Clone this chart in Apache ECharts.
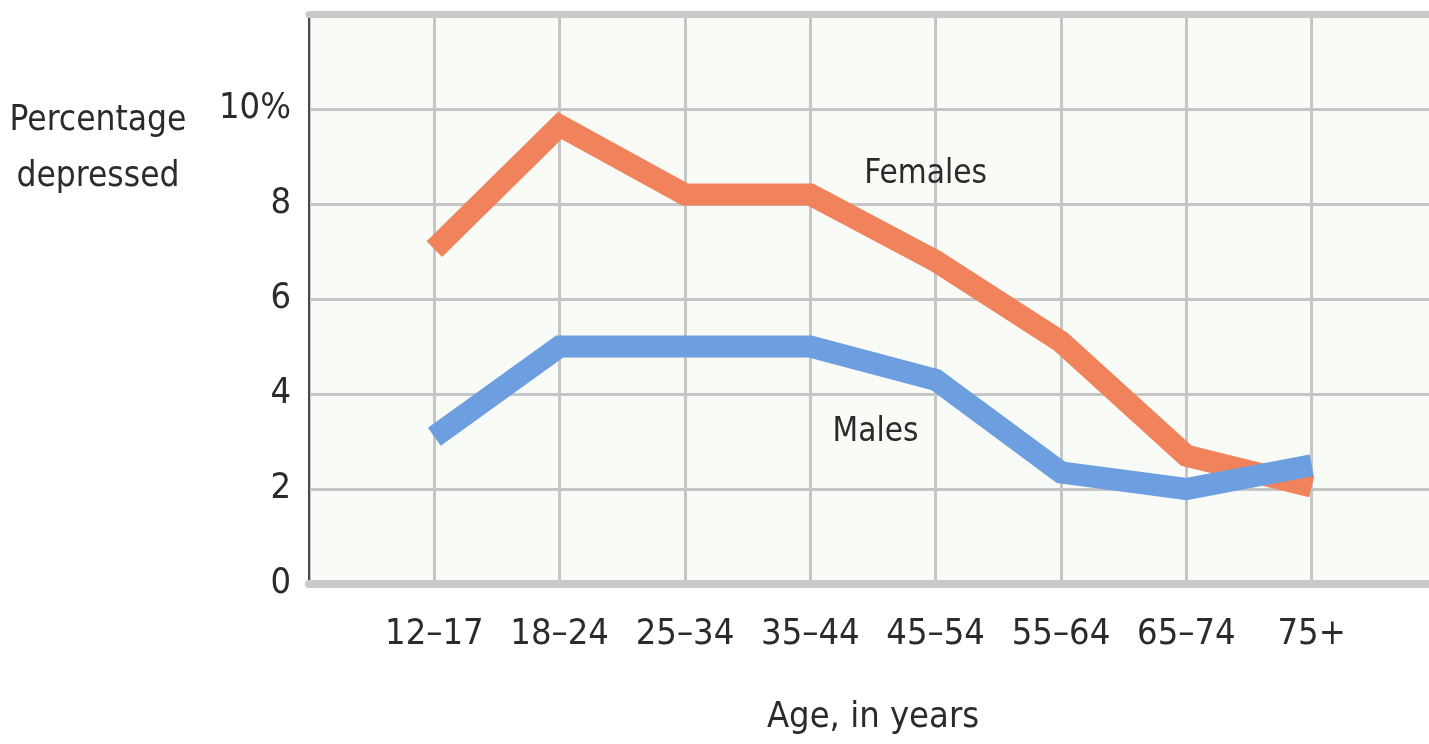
<!DOCTYPE html>
<html>
<head>
<meta charset="utf-8">
<title>Percentage depressed by age</title>
<script src="https://cdn.jsdelivr.net/npm/echarts@6/dist/echarts.min.js"></script>
<style>
  html, body { margin: 0; padding: 0; background: #ffffff; overflow: hidden; }
  /* The plot runs past the right edge of the page, so the canvas is a bit wider than the window */
  #chart { width: 1440px; height: 744px; }
</style>
</head>
<body>
<div id="chart"></div>
<script>
// Age groups along the x axis (placed at positions 1..8)
const ageGroups = ['12–17', '18–24', '25–34', '35–44', '45–54', '55–64', '65–74', '75+'];
// Percentage depressed in each age group
const females = [7.05, 9.65, 8.2, 8.2, 6.8, 5.1, 2.7, 2.05];
const males   = [3.1, 5.0, 5.0, 5.0, 4.3, 2.35, 2.0, 2.5];
// Y tick values shown on the left
const yTicks = [0, 2, 4, 6, 8, 10];
// Series name labels and where they sit in data space
const seriesLabels = [
  { name: 'Females', at: [4.92, 8.62] },
  { name: 'Males',   at: [4.52, 3.2] }
];

const FONT = '"DejaVu Sans Condensed", "Liberation Sans Narrow", "Liberation Sans", sans-serif';
const TEXT = '#2b2b2b';

const toPairs = arr => arr.map((v, i) => [i + 1, v]);

const chart = echarts.init(document.getElementById('chart'), null, { renderer: 'canvas' });

chart.setOption({
  animation: false,
  backgroundColor: '#ffffff',
  grid: {
    left: 309, right: 0, top: 14, bottom: 160,
    show: true, backgroundColor: '#f8fbf6', borderWidth: 0
  },
  xAxis: [
    {
      type: 'value', position: 'bottom', min: 0, max: 9, interval: 1,
      axisLine: { show: true, onZero: false, lineStyle: { color: '#c9c9c9', width: 8 } },
      axisTick: { show: false },
      axisLabel: {
        margin: 33, fontSize: 36, color: TEXT, fontFamily: FONT,
        formatter: v => (v >= 1 && v <= ageGroups.length && Number.isInteger(v)) ? ageGroups[v - 1] : ''
      },
      splitLine: { show: true, lineStyle: { color: '#c6c6c6', width: 3 } },
      name: 'Age, in years', nameLocation: 'middle', nameGap: 116,
      nameTextStyle: { fontSize: 36, color: TEXT, fontFamily: FONT }
    },
    {
      type: 'value', position: 'top', min: 0, max: 9, interval: 1,
      axisLine: { show: true, onZero: false, lineStyle: { color: '#c9c9c9', width: 7 } },
      axisTick: { show: false }, axisLabel: { show: false }, splitLine: { show: false }
    }
  ],
  yAxis: {
    type: 'value', min: 0, max: 12, interval: 2,
    axisLine: { show: true, onZero: false, lineStyle: { color: '#4a4a4a', width: 2 } },
    axisTick: { show: false },
    axisLabel: {
      margin: 18, fontSize: 36, color: TEXT, fontFamily: FONT,
      formatter: v => yTicks.includes(v) ? (v === 10 ? '10%' : String(v)) : ''
    },
    splitLine: { show: true, lineStyle: { color: '#c6c6c6', width: 3 } }
  },
  graphic: [
    {
      type: 'text', x: 98, y: 149,
      style: {
        text: 'Percentage\ndepressed', fontSize: 35, fontFamily: FONT, fill: TEXT,
        align: 'center', verticalAlign: 'middle', lineHeight: 56
      }
    }
  ],
  series: [
    {
      name: 'Females', type: 'line', data: toPairs(females),
      symbol: 'none', z: 3,
      lineStyle: { color: '#f0825c', width: 22, join: 'miter', cap: 'butt' },
      markPoint: {
        symbol: 'circle', symbolSize: 0, silent: true,
        data: [{ coord: seriesLabels[0].at, value: seriesLabels[0].name }],
        label: { show: true, position: 'inside', formatter: seriesLabels[0].name,
                 fontSize: 33, color: TEXT, fontFamily: FONT }
      }
    },
    {
      name: 'Males', type: 'line', data: toPairs(males),
      symbol: 'none', z: 4,
      lineStyle: { color: '#6d9fe0', width: 22, join: 'miter', cap: 'butt' },
      markPoint: {
        symbol: 'circle', symbolSize: 0, silent: true,
        data: [{ coord: seriesLabels[1].at, value: seriesLabels[1].name }],
        label: { show: true, position: 'inside', formatter: seriesLabels[1].name,
                 fontSize: 33, color: TEXT, fontFamily: FONT }
      }
    }
  ]
});
</script>
</body>
</html>
